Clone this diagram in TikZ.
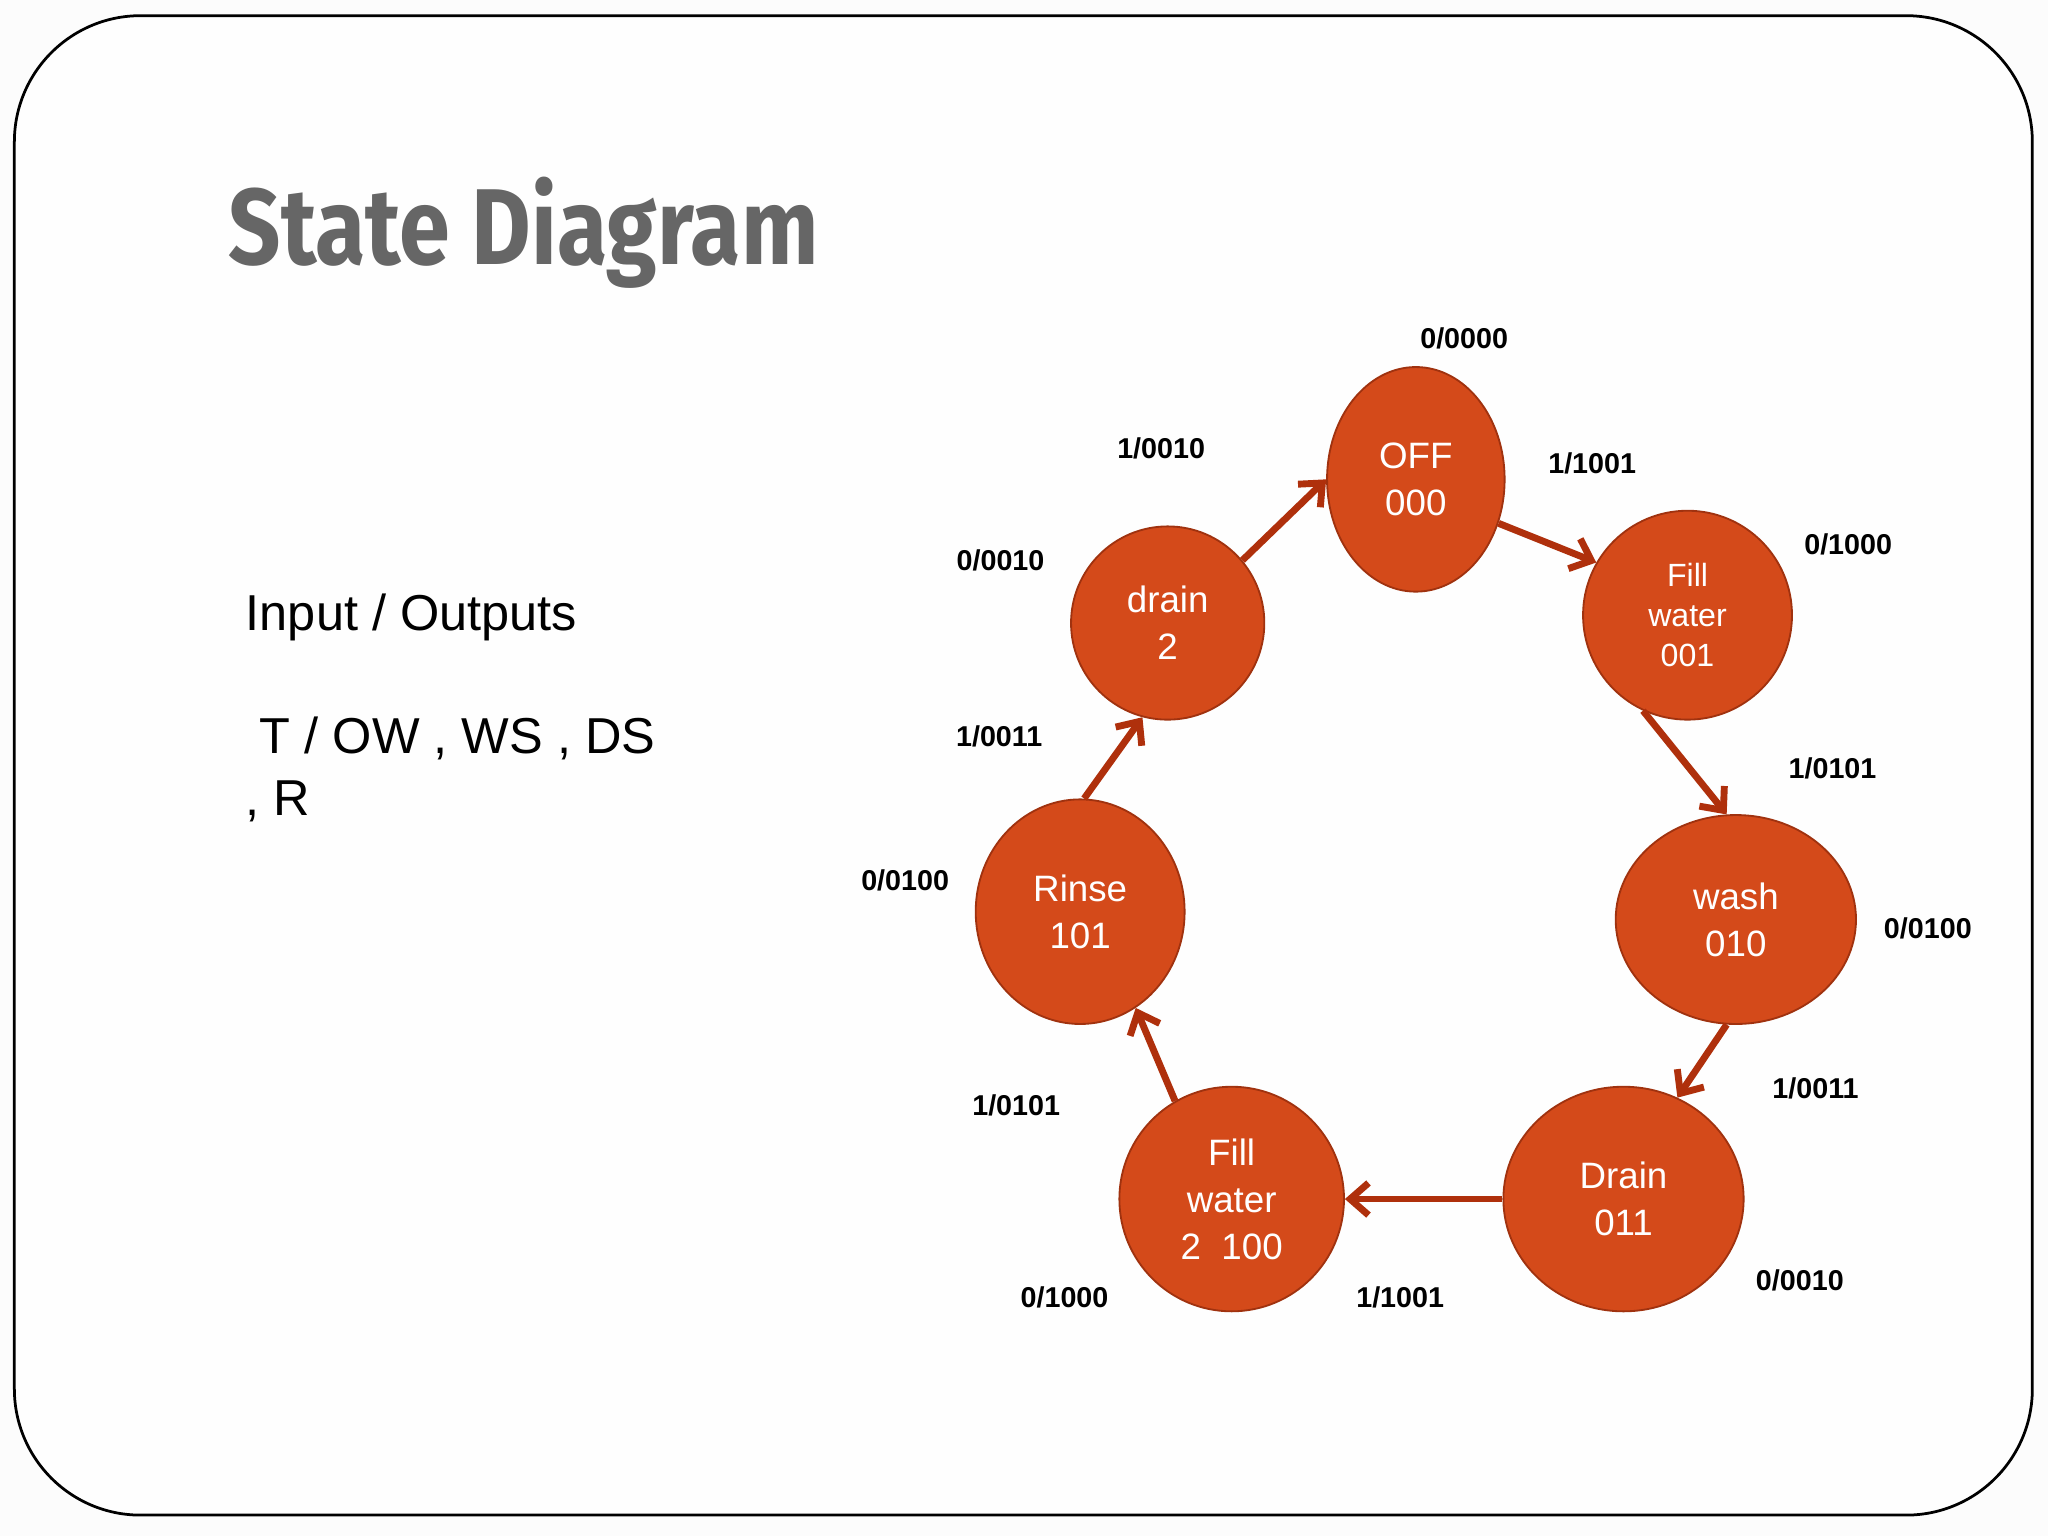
\documentclass[tikz,border=0pt]{standalone}
\usepackage{fontspec}
\setmainfont{Liberation Sans}
\newfontfamily\titlefont{Fira Sans}
\usetikzlibrary{arrows.meta,shapes.geometric}
\definecolor{st}{RGB}{212,74,26}
\definecolor{stb}{RGB}{160,50,15}
\definecolor{ar}{RGB}{175,48,12}
\begin{document}
\begin{tikzpicture}[x=0.02cm,y=-0.02cm,
  state/.style={ellipse,draw=stb,line width=0.8pt,fill=st,text=white,align=center,font=\fontsize{16}{20.5}\selectfont,inner sep=0pt},
  lab/.style={font=\bfseries\fontsize{12.5}{15}\selectfont},
  tr/.style={draw=ar,line width=3pt,-{Straight Barb[length=8pt,width=14pt,line width=3pt]}}]
\useasboundingbox (0,0) rectangle (1568,1176);
\fill[white!98!gray] (0,0) rectangle (1568,1176);
\draw[line width=1.2pt,rounded corners=55,fill=white!99!gray] (11,12) rectangle (1556,1160);
\node[anchor=west,font=\titlefont\bfseries\fontsize{47}{50}\selectfont,text=black!60,xscale=0.85] (title) at (170,178) {State Diagram};
\node[anchor=west,font=\fontsize{22}{26}\selectfont] (io) at (182,473) {Input / Outputs};
\node[anchor=north west,align=left,font=\fontsize{22}{27}\selectfont] (io2) at (182,543) {\ T / OW , WS , DS\\, R};
\node[state,minimum width=2.72cm,minimum height=3.44cm] (off) at (1084,367) {OFF\\000};
\node[state,minimum width=3.2cm,minimum height=3.2cm,font=\fontsize{14}{17.5}\selectfont] (f1) at (1292,471) {Fill\\water\\001};
\node[state,minimum width=3.68cm,minimum height=3.2cm] (wash) at (1329,704) {wash\\010};
\node[state,minimum width=3.68cm,minimum height=3.44cm] (dr) at (1243,918) {Drain\\011};
\node[state,minimum width=3.44cm,minimum height=3.44cm] (f2) at (943,918) {Fill\\water\\2\ \ 100};
\node[state,minimum width=3.2cm,minimum height=3.44cm] (rin) at (827,698) {Rinse\\101};
\node[state,minimum width=2.96cm,minimum height=2.96cm] (d2) at (894,477) {drain\\2};
\draw[tr] (off.-28) -- (f1.150);
\draw[tr] (f1.-115) -- (wash.95);
\draw[tr] (wash.-95) -- (dr.62);
\draw[tr] (dr.180) -- (f2.0);
\draw[tr] (f2.120) -- (rin.-60);
\draw[tr] (rin.88) -- (d2.-105);
\draw[tr] (d2.40) -- (off.180);
\node[lab] (l1) at (1121,259) {0/0000};
\node[lab] (l2) at (1219,355) {1/1001};
\node[lab] (l3) at (1415,417) {0/1000};
\node[lab] (l4) at (1403,588) {1/0101};
\node[lab] (l5) at (1476,711) {0/0100};
\node[lab] (l6) at (1390,833) {1/0011};
\node[lab] (l7) at (1378,980) {0/0010};
\node[lab] (l8) at (1072,993) {1/1001};
\node[lab] (l9) at (815,993) {0/1000};
\node[lab] (l10) at (778,846) {1/0101};
\node[lab] (l11) at (693,674) {0/0100};
\node[lab] (l12) at (765,564) {1/0011};
\node[lab] (l13) at (766,429) {0/0010};
\node[lab] (l14) at (889,343) {1/0010};
\end{tikzpicture}
\end{document}
